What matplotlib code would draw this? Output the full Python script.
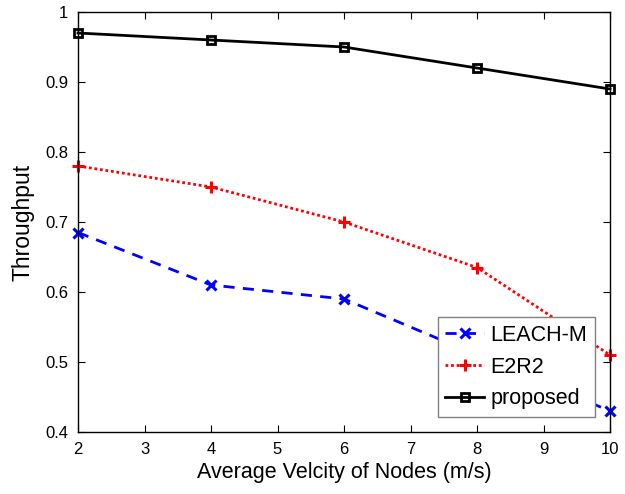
import numpy as np
import matplotlib.pyplot as plt

plt.rcParams['font.family'] = ['Liberation Sans', 'DejaVu Sans']

velocity = [2, 4, 6, 8, 10]
leach_m = [0.685, 0.61, 0.59, 0.51, 0.43]
e2r2 = [0.78, 0.75, 0.70, 0.635, 0.51]
proposed = [0.97, 0.96, 0.95, 0.92, 0.89]

fig = plt.figure(figsize=(6.25, 4.94), dpi=100)
ax = fig.add_axes([0.1248, 0.1255, 0.8512, 0.8502])

ax.plot(velocity, leach_m, color='blue', ls=(0, (4, 3)), lw=2,
        marker='x', ms=7, mew=2.2, label='LEACH-M', clip_on=False)
ax.plot(velocity, e2r2, color='red', ls=(0, (1, 1)), lw=2,
        marker='+', ms=8.5, mew=2.2, label='E2R2', clip_on=False)
ax.plot(velocity, proposed, color='black', ls='-', lw=2,
        marker='s', ms=5.5, mfc='none', mew=2, label='proposed', clip_on=False)

ax.set_xlim(2, 10)
ax.set_ylim(0.4, 1)
ax.set_xticks(np.arange(2, 11, 1))
ax.set_yticks(np.arange(0.4, 1.01, 0.1))
ax.set_yticklabels(['0.4', '0.5', '0.6', '0.7', '0.8', '0.9', '1'])
ax.tick_params(direction='in', top=True, right=True, labelsize=12, length=5, pad=7)
for s in ax.spines.values():
    s.set_linewidth(1)

ax.set_xlabel('Average Velcity of Nodes (m/s)', fontsize=15.5, labelpad=4)
ax.set_ylabel('Throughput', fontsize=16.5, labelpad=8)

leg = ax.legend(loc='lower right', fontsize=15.5, fancybox=False,
                framealpha=1, edgecolor='gray', borderaxespad=0.7,
                handlelength=1.8, borderpad=0.35, labelspacing=0.5,
                handletextpad=0.3)
leg.get_frame().set_linewidth(1)

fig.savefig('out.png', dpi=100)
